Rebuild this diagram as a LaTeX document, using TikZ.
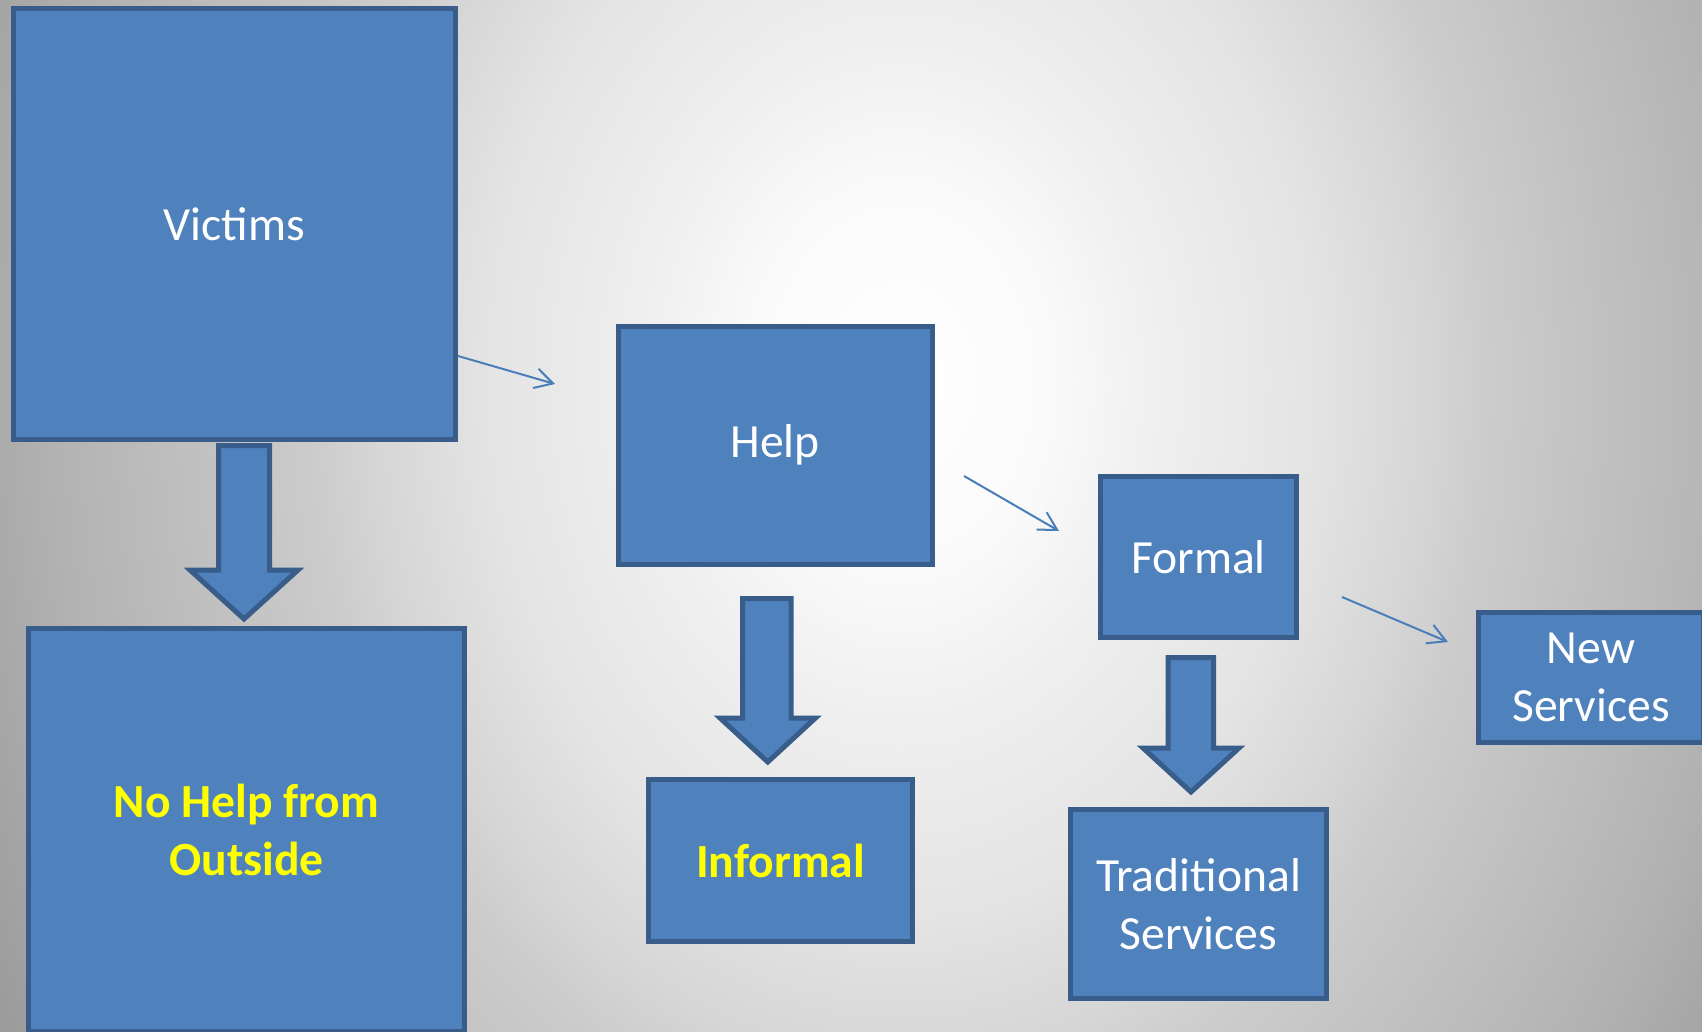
\documentclass[tikz,border=0pt]{standalone}
\usepackage{fontspec}
\setmainfont{Carlito}
\usetikzlibrary{arrows.meta}
\definecolor{boxfill}{HTML}{4F81BD}
\definecolor{boxline}{HTML}{385D8A}
\definecolor{thinarrow}{HTML}{4A7EBB}
\definecolor{txtyellow}{HTML}{FFFF00}
\definecolor{bgB}{HTML}{FAFAFA}
\definecolor{bgC}{HTML}{F0F0F0}
\definecolor{bgD}{HTML}{E4E4E4}
\definecolor{bgE}{HTML}{D6D6D6}
\definecolor{bgF}{HTML}{CCCCCC}
\definecolor{bgG}{HTML}{B2B2B2}
\definecolor{bgH}{HTML}{A6A6A6}
\definecolor{bgI}{HTML}{9B9B9B}
\definecolor{bgJ}{HTML}{909090}
\pgfdeclareradialshading{bgshade}{\pgfpoint{0bp}{0bp}}{color(0bp)=(white); color(3bp)=(bgB); color(5bp)=(bgC); color(8.25bp)=(bgD); color(10.5bp)=(bgE); color(11.75bp)=(bgF); color(17bp)=(bgG); color(18.75bp)=(bgH); color(20.5bp)=(bgI); color(25bp)=(bgJ); color(50bp)=(bgJ)}
\tikzset{
  box/.style={draw=boxline, fill=boxfill, line width=2.5pt, inner sep=0pt,
    text=white, align=center, font=\fontsize{23.8pt}{28.7pt}\selectfont},
  blockarrow/.style={draw=boxline, fill=boxfill, line width=2.5pt, line join=miter},
  thin/.style={draw=thinarrow, line width=1pt, -{Straight Barb[length=9pt, width=10pt, line width=1pt]}}
}
\begin{document}
\begin{tikzpicture}[x=0.5pt, y=-0.5pt]
\useasboundingbox (0,0) rectangle (1702,1032);
\begin{scope}
  \clip (0,0) rectangle (1702,1032);
  \shade[shading=bgshade] (900,380) ellipse [x radius=625pt, y radius=812.5pt];
\end{scope}

% block arrows
\draw[blockarrow] (218.5,445.5) -- (269.5,445.5) -- (269.5,570) -- (298,570) -- (244,619) -- (190,570) -- (218.5,570) -- cycle;
\draw[blockarrow] (742.5,598.5) -- (791,598.5) -- (791,718) -- (815.5,718) -- (767.75,762) -- (720,718) -- (742.5,718) -- cycle;
\draw[blockarrow] (1168,657.5) -- (1213.5,657.5) -- (1213.5,748) -- (1239,748) -- (1191,792) -- (1143,748) -- (1168,748) -- cycle;

% boxes
\node[box, minimum width=221pt, minimum height=215.5pt] (victims) at (234.5,224) {\raisebox{-1pt}{Victims}};
\node[box, minimum width=218pt, minimum height=201.5pt] (nohelp) at (246.5,830) {\bfseries\color{txtyellow}No Help from\\\bfseries\color{txtyellow}Outside};
\node[box, minimum width=157pt, minimum height=119pt] (help) at (775,445) {\raisebox{-1.5pt}{Help}};
\node[box, minimum width=132pt, minimum height=81pt] (informal) at (780.5,860.5) {\bfseries\color{txtyellow}Informal};
\node[box, minimum width=98pt, minimum height=80.5pt] (formal) at (1198.5,557) {Formal};
\node[box, minimum width=128pt, minimum height=94.5pt] (traditional) at (1198.5,904) {Traditional\\Services};
\node[box, minimum width=112.75pt, minimum height=65pt] (newserv) at (1591,677.5) {New\\Services};

% thin arrows
\coordinate (t1s) at (458,356);
\coordinate (t1e) at (555,384);
\coordinate (t2s) at (964,476);
\coordinate (t2e) at (1059,531);
\coordinate (t3s) at (1342,597);
\coordinate (t3e) at (1448,642);
\draw[thin] (t1s) -- (t1e);
\draw[thin] (t2s) -- (t2e);
\draw[thin] (t3s) -- (t3e);
\end{tikzpicture}
\end{document}
